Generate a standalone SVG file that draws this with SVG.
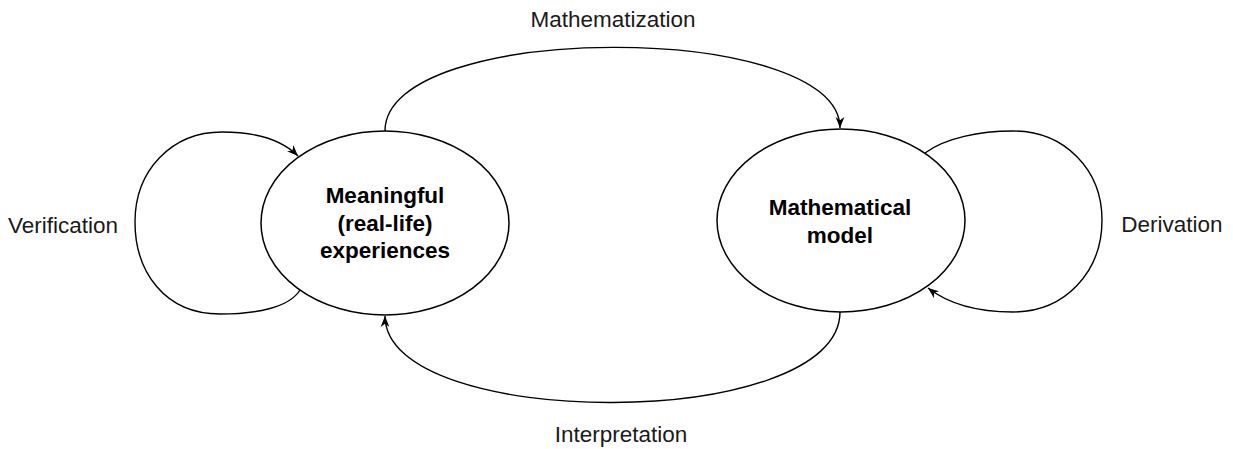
<svg xmlns="http://www.w3.org/2000/svg" width="1233" height="449" viewBox="0 0 1233 449">
  <style>
    .node { fill: #ffffff; stroke: #000000; stroke-width: 1.5; }
    .edge { fill: none; stroke: #000000; stroke-width: 1.4; }
    .title { font-family: "Liberation Sans", Arial, sans-serif; font-size: 22.5px; font-weight: bold; fill: #000000; text-anchor: middle; }
    .label { font-family: "Liberation Sans", Arial, sans-serif; font-size: 22.5px; fill: #1a1a1a; text-anchor: middle; }
  </style>
  <defs>
    <marker id="arrow" viewBox="0 0 10 8" refX="10" refY="4" markerWidth="11" markerHeight="9.5" markerUnits="userSpaceOnUse" orient="auto">
      <path d="M0,0 L10,4 L0,8 L3,4 Z" fill="#000000"/>
    </marker>
  </defs>
  <rect width="1233" height="449" fill="#ffffff"/>

  <g id="connectors">
    <path id="mathematization" class="edge" d="M385,131 C385,20 840,20 840,128" marker-end="url(#arrow)"/>
    <path id="interpretation" class="edge" d="M840,312 C840,432 385,432 385,316" marker-end="url(#arrow)"/>
    <path id="verification" class="edge" d="M300,290 C289,308 255,314 220,314 C165,314 135,272 135,222 C135,170 172,132 222,132 C255,132 282,140 298,156" marker-end="url(#arrow)"/>
    <path id="derivation" class="edge" d="M925,153 C945,138 980,131 1013,131 C1065,131 1102,170 1102,220 C1102,272 1065,312 1013,312 C980,312 950,305 928,288" marker-end="url(#arrow)"/>
  </g>

  <g id="node-experiences">
    <ellipse class="node" cx="385" cy="223" rx="124" ry="92"/>
    <text class="title" x="385" y="203">Meaningful</text>
    <text class="title" x="385" y="230.5">(real-life)</text>
    <text class="title" x="385" y="258">experiences</text>
  </g>

  <g id="node-model">
    <ellipse class="node" cx="841" cy="220.5" rx="124" ry="91.5"/>
    <text class="title" x="840" y="215">Mathematical</text>
    <text class="title" x="840" y="242.5">model</text>
  </g>

  <g id="labels">
    <text class="label" x="613" y="27">Mathematization</text>
    <text class="label" x="621" y="441.5">Interpretation</text>
    <text class="label" x="63" y="232.5">Verification</text>
    <text class="label" x="1172" y="231.5">Derivation</text>
  </g>
</svg>
